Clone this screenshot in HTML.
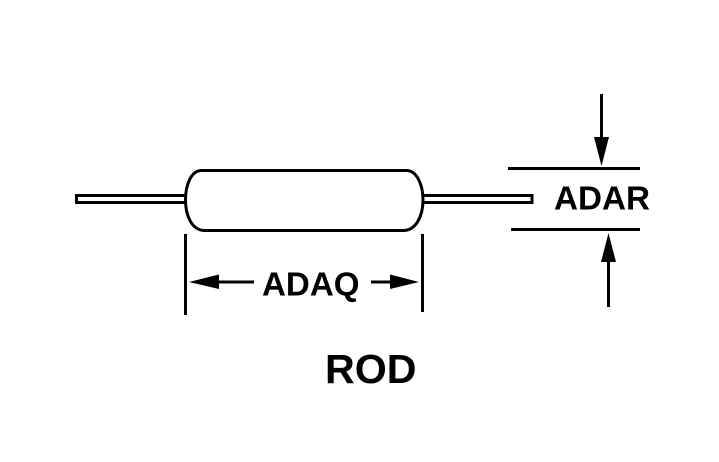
<!DOCTYPE html>
<html>
<head>
<meta charset="utf-8">
<style>
html,body{margin:0;padding:0;background:#fff;width:719px;height:462px;overflow:hidden}
svg{display:block}
text{font-family:"Liberation Sans",Arial,sans-serif;font-weight:bold;fill:#000}
</style>
</head>
<body>
<svg width="719" height="462" viewBox="0 0 719 462" xmlns="http://www.w3.org/2000/svg">
<rect width="719" height="462" fill="#fff"/>
<g fill="none" stroke="#000" stroke-width="3">
<path d="M185 195.500H76.500V202.500H185"/>
<path d="M423 195.500H532V202.500H423"/>
<path d="M201 170.500H407C417 171 423 185 423 200C423 216 416 230 404 230.500H204C192 230 185.500 216 185.500 200C185.500 185 191 171 201 170.500Z"/>
<path d="M185.500 234V315"/>
<path d="M422.500 234V312"/>
<path d="M219 282H254"/>
<path d="M371 282H391"/>
<path d="M508 168.500H640"/>
<path d="M511 229.500H640"/>
<path d="M601.500 94V138"/>
<path d="M608.500 261V307"/>
</g>
<g fill="#000">
<polygon points="189,282 219,274.500 219,289"/>
<polygon points="419,282 390,274.500 390,289"/>
<polygon points="601.500,166 594,137 609,137"/>
<polygon points="608.500,233 601,262 616,262"/>
</g>
<text x="262" y="295.500" font-size="33" textLength="97.500" lengthAdjust="spacingAndGlyphs">ADAQ</text>
<text x="554" y="209.500" font-size="33" textLength="96" lengthAdjust="spacingAndGlyphs">ADAR</text>
<text x="325" y="383" font-size="41" textLength="91.500" lengthAdjust="spacingAndGlyphs">ROD</text>
</svg>
</body>
</html>
